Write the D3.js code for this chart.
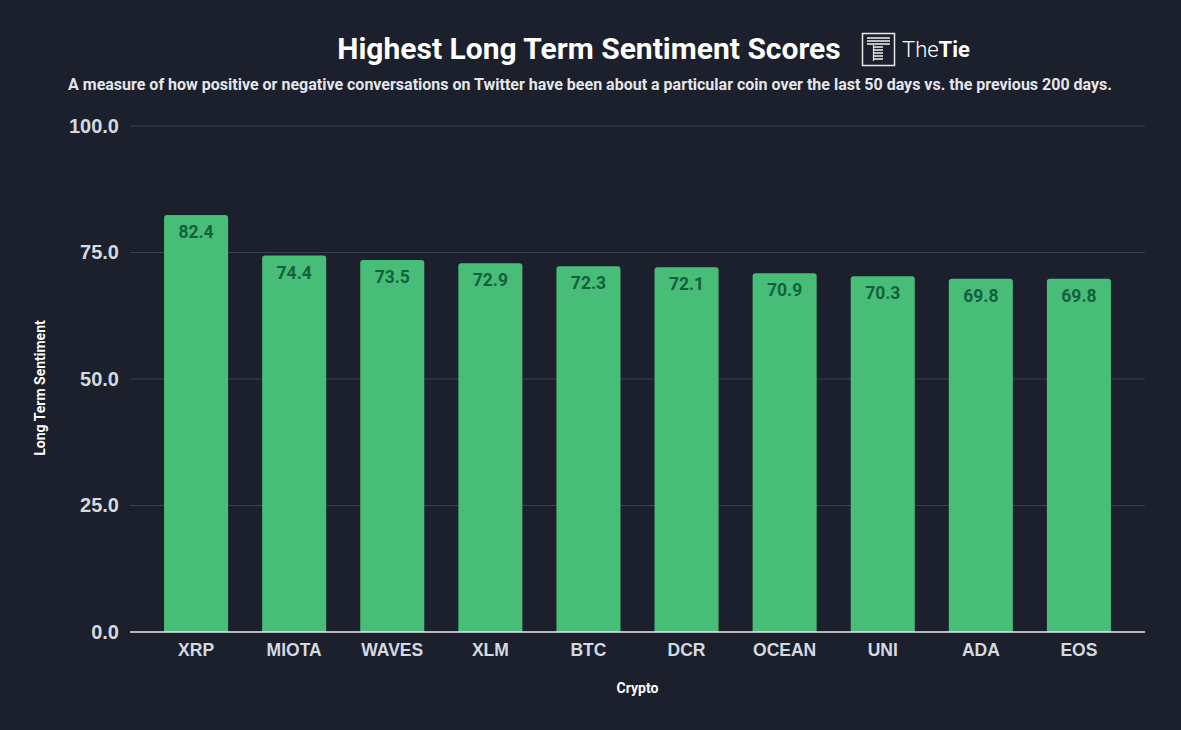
<!DOCTYPE html>
<html>
<head>
<meta charset="utf-8">
<script src="https://cdn.jsdelivr.net/npm/d3@7.9.0/dist/d3.min.js"></script>
<style>
  html, body { margin: 0; padding: 0; background: #1b202c; }
  svg { display: block; font-family: Roboto, "Noto Sans", sans-serif; }
</style>
</head>
<body>
<svg id="chart" width="1181" height="730"></svg>
<script>
// Chart data
const coins  = ['XRP', 'MIOTA', 'WAVES', 'XLM', 'BTC', 'DCR', 'OCEAN', 'UNI', 'ADA', 'EOS'];
const scores = [82.4, 74.4, 73.5, 72.9, 72.3, 72.1, 70.9, 70.3, 69.8, 69.8];
const yTicks = [0, 25, 50, 75, 100];

const svg = d3.select('#chart');

// Plot box
const plotL = 130, plotR = 1145, plotT = 126, plotB = 632;

const x = d3.scaleBand().domain(coins).range([plotL, plotR]).paddingInner(0.347).paddingOuter(0.347);
const y = d3.scaleLinear().domain([0, 100]).range([plotB, plotT]);

// Gridlines
svg.append('g')
  .selectAll('line')
  .data(yTicks.filter(t => t > 0))
  .join('line')
  .attr('x1', plotL).attr('x2', plotR)
  .attr('y1', d => y(d)).attr('y2', d => y(d))
  .attr('stroke', '#3a404d').attr('stroke-width', 1);

// Y axis labels
const yAxis = svg.append('g')
  .attr('transform', `translate(${plotL},0)`)
  .call(d3.axisLeft(y).tickValues(yTicks).tickFormat(d3.format('.1f')).tickSize(0).tickPadding(11));
yAxis.select('.domain').remove();
yAxis.selectAll('text')
  .attr('fill', '#d5d9e0').attr('font-size', 20).attr('font-weight', 700);

// Bars with rounded tops
const r = 3;
svg.append('g')
  .selectAll('path')
  .data(coins)
  .join('path')
  .attr('fill', '#48bd78')
  .attr('d', (d, i) => {
    const x0 = x(d), w = x.bandwidth(), y0 = y(scores[i]), yb = y(0);
    return `M${x0},${yb}V${y0 + r}Q${x0},${y0} ${x0 + r},${y0}H${x0 + w - r}Q${x0 + w},${y0} ${x0 + w},${y0 + r}V${yb}Z`;
  });

// Value labels
svg.append('g')
  .selectAll('text')
  .data(coins)
  .join('text')
  .attr('x', d => x(d) + x.bandwidth() / 2)
  .attr('y', (d, i) => y(scores[i]) + 23)
  .attr('text-anchor', 'middle')
  .attr('fill', '#11613f')
  .attr('font-size', 17.5)
  .attr('font-weight', 700)
  .text((d, i) => scores[i].toFixed(1));

// Baseline
svg.append('line')
  .attr('x1', plotL).attr('x2', plotR)
  .attr('y1', y(0)).attr('y2', y(0))
  .attr('stroke', '#e8eaee').attr('stroke-width', 1.5);

// X axis labels
const xAxis = svg.append('g')
  .attr('transform', `translate(0,${plotB})`)
  .call(d3.axisBottom(x).tickSize(0).tickPadding(12));
xAxis.select('.domain').remove();
xAxis.selectAll('text')
  .attr('fill', '#d5d9e0').attr('font-size', 17.5).attr('font-weight', 700);

// Axis titles
svg.append('text')
  .attr('x', (plotL + plotR) / 2).attr('y', 693)
  .attr('text-anchor', 'middle')
  .attr('fill', '#ffffff').attr('font-size', 14).attr('font-weight', 700)
  .text('Crypto');

svg.append('text')
  .attr('transform', `translate(45,${(plotT + plotB) / 2 + 9}) rotate(-90)`)
  .attr('text-anchor', 'middle')
  .attr('fill', '#ffffff').attr('font-size', 14).attr('font-weight', 700)
  .text('Long Term Sentiment');

// Title
svg.append('text')
  .attr('x', 589).attr('y', 59)
  .attr('text-anchor', 'middle')
  .attr('fill', '#ffffff').attr('font-size', 30).attr('font-weight', 700)
  .text('Highest Long Term Sentiment Scores');

// Logo
const logo = svg.append('g').attr('transform', 'translate(862,33)');
logo.append('rect').attr('x', 0.5).attr('y', 0.5).attr('width', 32).attr('height', 32)
  .attr('fill', 'none').attr('stroke', '#e6e6e6').attr('stroke-width', 1.5);
[5, 8, 11].forEach(yy => {
  logo.append('line').attr('x1', 5).attr('x2', 28).attr('y1', yy).attr('y2', yy)
    .attr('stroke', '#e6e6e6').attr('stroke-width', 1.6);
});
[14, 17, 20, 23, 26].forEach(yy => {
  logo.append('line').attr('x1', 12).attr('x2', 21).attr('y1', yy).attr('y2', yy)
    .attr('stroke', '#e6e6e6').attr('stroke-width', 1.6);
});
logo.append('line').attr('x1', 11.5).attr('x2', 11.5).attr('y1', 12).attr('y2', 28)
  .attr('stroke', '#e6e6e6').attr('stroke-width', 1.2);
const brand = logo.append('text').attr('x', 40).attr('y', 24)
  .attr('fill', '#ffffff').attr('font-size', 22);
brand.append('tspan').attr('font-weight', 300).text('The');
brand.append('tspan').attr('font-weight', 700).text('Tie');

// Subtitle
svg.append('text')
  .attr('x', 590).attr('y', 90)
  .attr('text-anchor', 'middle')
  .attr('fill', '#e4e6ea').attr('font-size', 16).attr('font-weight', 700)
  .text('A measure of how positive or negative conversations on Twitter have been about a particular coin over the last 50 days vs. the previous 200 days.');
</script>
</body>
</html>
